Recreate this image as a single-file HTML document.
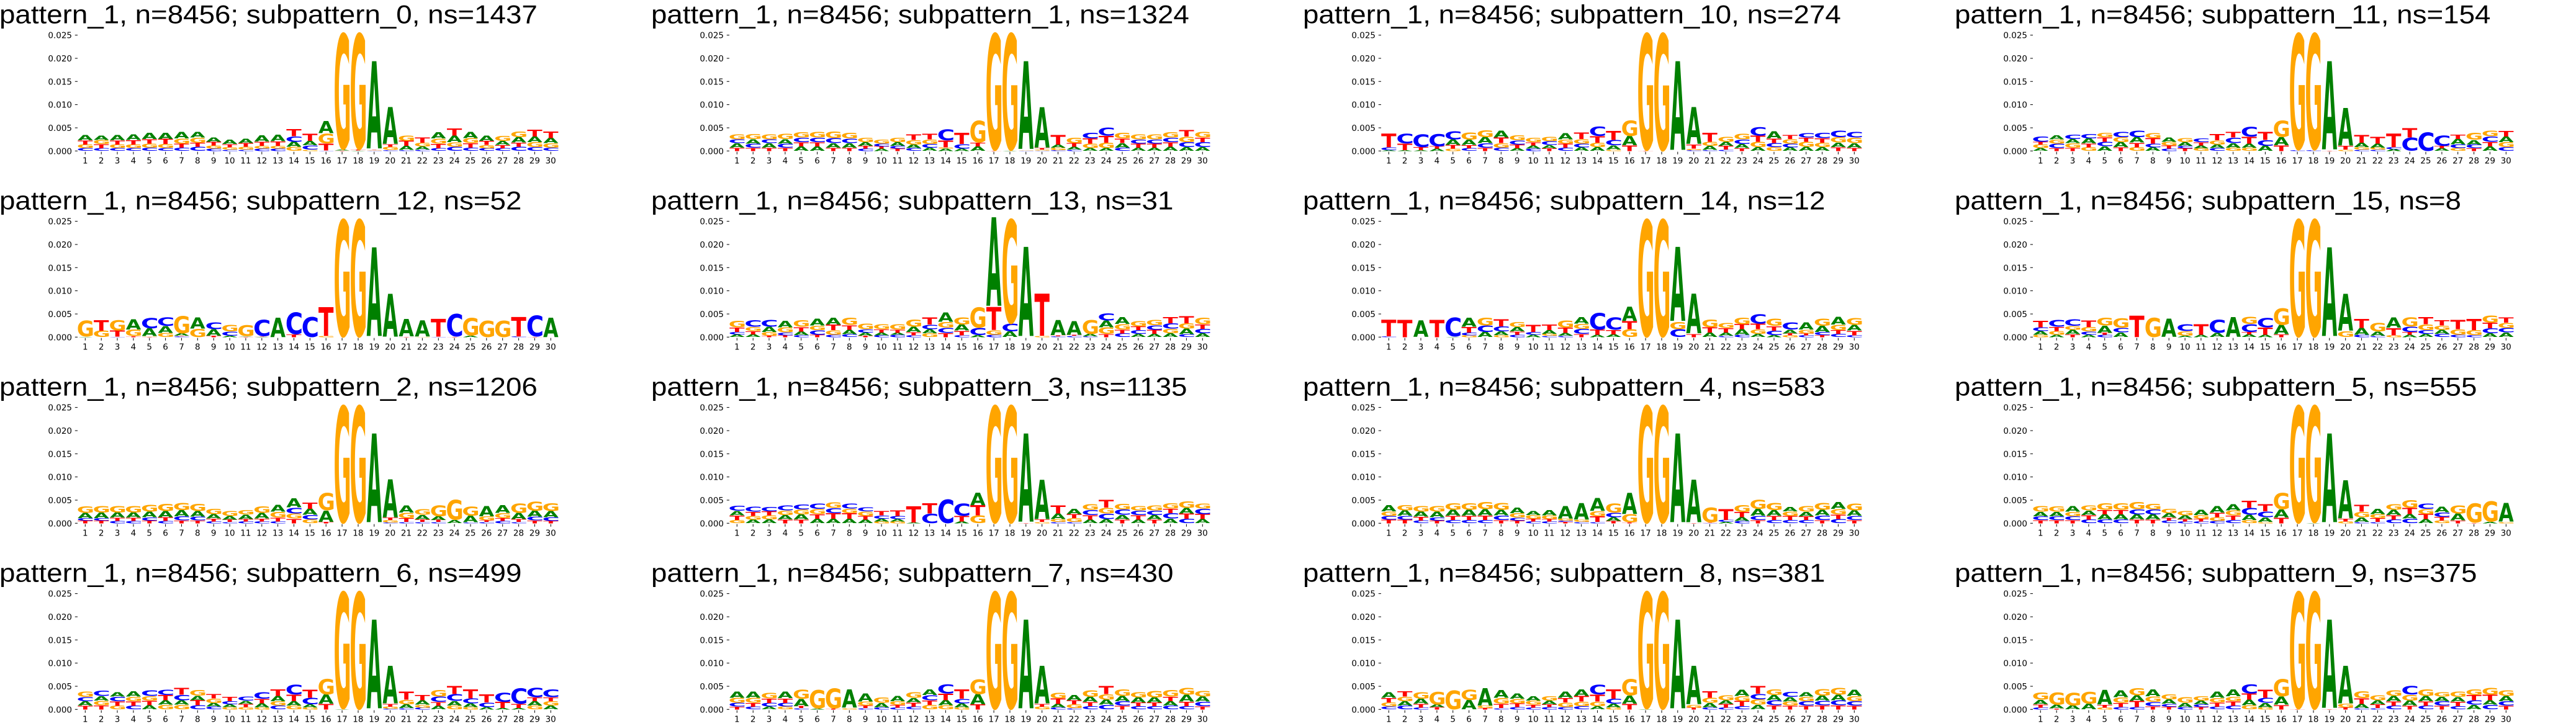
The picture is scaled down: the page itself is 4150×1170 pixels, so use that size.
<!DOCTYPE html>
<html><head><meta charset="utf-8">
<style>
html,body{margin:0;padding:0;background:#fff;overflow:hidden;}
svg{display:block;}
.t{font-family:"Liberation Sans",sans-serif;font-size:42px;fill:#000;}
.k{font-family:"DejaVu Sans",sans-serif;font-size:13.5px;fill:#000;}
</style></head><body>
<svg id="s" width="4150" height="1170" viewBox="0 0 4150 1170" xmlns="http://www.w3.org/2000/svg">
<rect width="4150" height="1170" fill="#fff"/>

<g transform="translate(0,0)">
<text class="t" transform="translate(-1,37.3) scale(1.089,1)">pattern_1, n=8456; subpattern_0, ns=1437</text>
<text class="k" text-anchor="end"><tspan x="116" y="248.3">0.000</tspan><tspan x="116" y="211">0.005</tspan><tspan x="116" y="173.6">0.010</tspan><tspan x="116" y="136.3">0.015</tspan><tspan x="116" y="99">0.020</tspan><tspan x="116" y="61.6">0.025</tspan></text>
<text class="k" text-anchor="middle" y="263.3"><tspan x="137.3">1</tspan><tspan x="163.2">2</tspan><tspan x="189">3</tspan><tspan x="214.9">4</tspan><tspan x="240.7">5</tspan><tspan x="266.6">6</tspan><tspan x="292.5">7</tspan><tspan x="318.3">8</tspan><tspan x="344.2">9</tspan><tspan x="370">10</tspan><tspan x="395.9">11</tspan><tspan x="421.8">12</tspan><tspan x="447.6">13</tspan><tspan x="473.5">14</tspan><tspan x="499.3">15</tspan><tspan x="525.2">16</tspan><tspan x="551.1">17</tspan><tspan x="576.9">18</tspan><tspan x="602.8">19</tspan><tspan x="628.6">20</tspan><tspan x="654.5">21</tspan><tspan x="680.4">22</tspan><tspan x="706.2">23</tspan><tspan x="732.1">24</tspan><tspan x="757.9">25</tspan><tspan x="783.8">26</tspan><tspan x="809.7">27</tspan><tspan x="835.5">28</tspan><tspan x="861.4">29</tspan><tspan x="887.2">30</tspan></text>
</g>

<g transform="translate(1050,0)">
<text class="t" transform="translate(-1,37.3) scale(1.089,1)">pattern_1, n=8456; subpattern_1, ns=1324</text>
<text class="k" text-anchor="end"><tspan x="116" y="248.3">0.000</tspan><tspan x="116" y="211">0.005</tspan><tspan x="116" y="173.6">0.010</tspan><tspan x="116" y="136.3">0.015</tspan><tspan x="116" y="99">0.020</tspan><tspan x="116" y="61.6">0.025</tspan></text>
<text class="k" text-anchor="middle" y="263.3"><tspan x="137.3">1</tspan><tspan x="163.2">2</tspan><tspan x="189">3</tspan><tspan x="214.9">4</tspan><tspan x="240.7">5</tspan><tspan x="266.6">6</tspan><tspan x="292.5">7</tspan><tspan x="318.3">8</tspan><tspan x="344.2">9</tspan><tspan x="370">10</tspan><tspan x="395.9">11</tspan><tspan x="421.8">12</tspan><tspan x="447.6">13</tspan><tspan x="473.5">14</tspan><tspan x="499.3">15</tspan><tspan x="525.2">16</tspan><tspan x="551.1">17</tspan><tspan x="576.9">18</tspan><tspan x="602.8">19</tspan><tspan x="628.6">20</tspan><tspan x="654.5">21</tspan><tspan x="680.4">22</tspan><tspan x="706.2">23</tspan><tspan x="732.1">24</tspan><tspan x="757.9">25</tspan><tspan x="783.8">26</tspan><tspan x="809.7">27</tspan><tspan x="835.5">28</tspan><tspan x="861.4">29</tspan><tspan x="887.2">30</tspan></text>
</g>

<g transform="translate(2100,0)">
<text class="t" transform="translate(-1,37.3) scale(1.089,1)">pattern_1, n=8456; subpattern_10, ns=274</text>
<text class="k" text-anchor="end"><tspan x="116" y="248.3">0.000</tspan><tspan x="116" y="211">0.005</tspan><tspan x="116" y="173.6">0.010</tspan><tspan x="116" y="136.3">0.015</tspan><tspan x="116" y="99">0.020</tspan><tspan x="116" y="61.6">0.025</tspan></text>
<text class="k" text-anchor="middle" y="263.3"><tspan x="137.3">1</tspan><tspan x="163.2">2</tspan><tspan x="189">3</tspan><tspan x="214.9">4</tspan><tspan x="240.7">5</tspan><tspan x="266.6">6</tspan><tspan x="292.5">7</tspan><tspan x="318.3">8</tspan><tspan x="344.2">9</tspan><tspan x="370">10</tspan><tspan x="395.9">11</tspan><tspan x="421.8">12</tspan><tspan x="447.6">13</tspan><tspan x="473.5">14</tspan><tspan x="499.3">15</tspan><tspan x="525.2">16</tspan><tspan x="551.1">17</tspan><tspan x="576.9">18</tspan><tspan x="602.8">19</tspan><tspan x="628.6">20</tspan><tspan x="654.5">21</tspan><tspan x="680.4">22</tspan><tspan x="706.2">23</tspan><tspan x="732.1">24</tspan><tspan x="757.9">25</tspan><tspan x="783.8">26</tspan><tspan x="809.7">27</tspan><tspan x="835.5">28</tspan><tspan x="861.4">29</tspan><tspan x="887.2">30</tspan></text>
</g>

<g transform="translate(3150,0)">
<text class="t" transform="translate(-1,37.3) scale(1.089,1)">pattern_1, n=8456; subpattern_11, ns=154</text>
<text class="k" text-anchor="end"><tspan x="116" y="248.3">0.000</tspan><tspan x="116" y="211">0.005</tspan><tspan x="116" y="173.6">0.010</tspan><tspan x="116" y="136.3">0.015</tspan><tspan x="116" y="99">0.020</tspan><tspan x="116" y="61.6">0.025</tspan></text>
<text class="k" text-anchor="middle" y="263.3"><tspan x="137.3">1</tspan><tspan x="163.2">2</tspan><tspan x="189">3</tspan><tspan x="214.9">4</tspan><tspan x="240.7">5</tspan><tspan x="266.6">6</tspan><tspan x="292.5">7</tspan><tspan x="318.3">8</tspan><tspan x="344.2">9</tspan><tspan x="370">10</tspan><tspan x="395.9">11</tspan><tspan x="421.8">12</tspan><tspan x="447.6">13</tspan><tspan x="473.5">14</tspan><tspan x="499.3">15</tspan><tspan x="525.2">16</tspan><tspan x="551.1">17</tspan><tspan x="576.9">18</tspan><tspan x="602.8">19</tspan><tspan x="628.6">20</tspan><tspan x="654.5">21</tspan><tspan x="680.4">22</tspan><tspan x="706.2">23</tspan><tspan x="732.1">24</tspan><tspan x="757.9">25</tspan><tspan x="783.8">26</tspan><tspan x="809.7">27</tspan><tspan x="835.5">28</tspan><tspan x="861.4">29</tspan><tspan x="887.2">30</tspan></text>
</g>

<g transform="translate(0,300)">
<text class="t" transform="translate(-1,37.3) scale(1.089,1)">pattern_1, n=8456; subpattern_12, ns=52</text>
<text class="k" text-anchor="end"><tspan x="116" y="248.3">0.000</tspan><tspan x="116" y="211">0.005</tspan><tspan x="116" y="173.6">0.010</tspan><tspan x="116" y="136.3">0.015</tspan><tspan x="116" y="99">0.020</tspan><tspan x="116" y="61.6">0.025</tspan></text>
<text class="k" text-anchor="middle" y="263.3"><tspan x="137.3">1</tspan><tspan x="163.2">2</tspan><tspan x="189">3</tspan><tspan x="214.9">4</tspan><tspan x="240.7">5</tspan><tspan x="266.6">6</tspan><tspan x="292.5">7</tspan><tspan x="318.3">8</tspan><tspan x="344.2">9</tspan><tspan x="370">10</tspan><tspan x="395.9">11</tspan><tspan x="421.8">12</tspan><tspan x="447.6">13</tspan><tspan x="473.5">14</tspan><tspan x="499.3">15</tspan><tspan x="525.2">16</tspan><tspan x="551.1">17</tspan><tspan x="576.9">18</tspan><tspan x="602.8">19</tspan><tspan x="628.6">20</tspan><tspan x="654.5">21</tspan><tspan x="680.4">22</tspan><tspan x="706.2">23</tspan><tspan x="732.1">24</tspan><tspan x="757.9">25</tspan><tspan x="783.8">26</tspan><tspan x="809.7">27</tspan><tspan x="835.5">28</tspan><tspan x="861.4">29</tspan><tspan x="887.2">30</tspan></text>
</g>

<g transform="translate(1050,300)">
<text class="t" transform="translate(-1,37.3) scale(1.089,1)">pattern_1, n=8456; subpattern_13, ns=31</text>
<text class="k" text-anchor="end"><tspan x="116" y="248.3">0.000</tspan><tspan x="116" y="211">0.005</tspan><tspan x="116" y="173.6">0.010</tspan><tspan x="116" y="136.3">0.015</tspan><tspan x="116" y="99">0.020</tspan><tspan x="116" y="61.6">0.025</tspan></text>
<text class="k" text-anchor="middle" y="263.3"><tspan x="137.3">1</tspan><tspan x="163.2">2</tspan><tspan x="189">3</tspan><tspan x="214.9">4</tspan><tspan x="240.7">5</tspan><tspan x="266.6">6</tspan><tspan x="292.5">7</tspan><tspan x="318.3">8</tspan><tspan x="344.2">9</tspan><tspan x="370">10</tspan><tspan x="395.9">11</tspan><tspan x="421.8">12</tspan><tspan x="447.6">13</tspan><tspan x="473.5">14</tspan><tspan x="499.3">15</tspan><tspan x="525.2">16</tspan><tspan x="551.1">17</tspan><tspan x="576.9">18</tspan><tspan x="602.8">19</tspan><tspan x="628.6">20</tspan><tspan x="654.5">21</tspan><tspan x="680.4">22</tspan><tspan x="706.2">23</tspan><tspan x="732.1">24</tspan><tspan x="757.9">25</tspan><tspan x="783.8">26</tspan><tspan x="809.7">27</tspan><tspan x="835.5">28</tspan><tspan x="861.4">29</tspan><tspan x="887.2">30</tspan></text>
</g>

<g transform="translate(2100,300)">
<text class="t" transform="translate(-1,37.3) scale(1.089,1)">pattern_1, n=8456; subpattern_14, ns=12</text>
<text class="k" text-anchor="end"><tspan x="116" y="248.3">0.000</tspan><tspan x="116" y="211">0.005</tspan><tspan x="116" y="173.6">0.010</tspan><tspan x="116" y="136.3">0.015</tspan><tspan x="116" y="99">0.020</tspan><tspan x="116" y="61.6">0.025</tspan></text>
<text class="k" text-anchor="middle" y="263.3"><tspan x="137.3">1</tspan><tspan x="163.2">2</tspan><tspan x="189">3</tspan><tspan x="214.9">4</tspan><tspan x="240.7">5</tspan><tspan x="266.6">6</tspan><tspan x="292.5">7</tspan><tspan x="318.3">8</tspan><tspan x="344.2">9</tspan><tspan x="370">10</tspan><tspan x="395.9">11</tspan><tspan x="421.8">12</tspan><tspan x="447.6">13</tspan><tspan x="473.5">14</tspan><tspan x="499.3">15</tspan><tspan x="525.2">16</tspan><tspan x="551.1">17</tspan><tspan x="576.9">18</tspan><tspan x="602.8">19</tspan><tspan x="628.6">20</tspan><tspan x="654.5">21</tspan><tspan x="680.4">22</tspan><tspan x="706.2">23</tspan><tspan x="732.1">24</tspan><tspan x="757.9">25</tspan><tspan x="783.8">26</tspan><tspan x="809.7">27</tspan><tspan x="835.5">28</tspan><tspan x="861.4">29</tspan><tspan x="887.2">30</tspan></text>
</g>

<g transform="translate(3150,300)">
<text class="t" transform="translate(-1,37.3) scale(1.089,1)">pattern_1, n=8456; subpattern_15, ns=8</text>
<text class="k" text-anchor="end"><tspan x="116" y="248.3">0.000</tspan><tspan x="116" y="211">0.005</tspan><tspan x="116" y="173.6">0.010</tspan><tspan x="116" y="136.3">0.015</tspan><tspan x="116" y="99">0.020</tspan><tspan x="116" y="61.6">0.025</tspan></text>
<text class="k" text-anchor="middle" y="263.3"><tspan x="137.3">1</tspan><tspan x="163.2">2</tspan><tspan x="189">3</tspan><tspan x="214.9">4</tspan><tspan x="240.7">5</tspan><tspan x="266.6">6</tspan><tspan x="292.5">7</tspan><tspan x="318.3">8</tspan><tspan x="344.2">9</tspan><tspan x="370">10</tspan><tspan x="395.9">11</tspan><tspan x="421.8">12</tspan><tspan x="447.6">13</tspan><tspan x="473.5">14</tspan><tspan x="499.3">15</tspan><tspan x="525.2">16</tspan><tspan x="551.1">17</tspan><tspan x="576.9">18</tspan><tspan x="602.8">19</tspan><tspan x="628.6">20</tspan><tspan x="654.5">21</tspan><tspan x="680.4">22</tspan><tspan x="706.2">23</tspan><tspan x="732.1">24</tspan><tspan x="757.9">25</tspan><tspan x="783.8">26</tspan><tspan x="809.7">27</tspan><tspan x="835.5">28</tspan><tspan x="861.4">29</tspan><tspan x="887.2">30</tspan></text>
</g>

<g transform="translate(0,600)">
<text class="t" transform="translate(-1,37.3) scale(1.089,1)">pattern_1, n=8456; subpattern_2, ns=1206</text>
<text class="k" text-anchor="end"><tspan x="116" y="248.3">0.000</tspan><tspan x="116" y="211">0.005</tspan><tspan x="116" y="173.6">0.010</tspan><tspan x="116" y="136.3">0.015</tspan><tspan x="116" y="99">0.020</tspan><tspan x="116" y="61.6">0.025</tspan></text>
<text class="k" text-anchor="middle" y="263.3"><tspan x="137.3">1</tspan><tspan x="163.2">2</tspan><tspan x="189">3</tspan><tspan x="214.9">4</tspan><tspan x="240.7">5</tspan><tspan x="266.6">6</tspan><tspan x="292.5">7</tspan><tspan x="318.3">8</tspan><tspan x="344.2">9</tspan><tspan x="370">10</tspan><tspan x="395.9">11</tspan><tspan x="421.8">12</tspan><tspan x="447.6">13</tspan><tspan x="473.5">14</tspan><tspan x="499.3">15</tspan><tspan x="525.2">16</tspan><tspan x="551.1">17</tspan><tspan x="576.9">18</tspan><tspan x="602.8">19</tspan><tspan x="628.6">20</tspan><tspan x="654.5">21</tspan><tspan x="680.4">22</tspan><tspan x="706.2">23</tspan><tspan x="732.1">24</tspan><tspan x="757.9">25</tspan><tspan x="783.8">26</tspan><tspan x="809.7">27</tspan><tspan x="835.5">28</tspan><tspan x="861.4">29</tspan><tspan x="887.2">30</tspan></text>
</g>

<g transform="translate(1050,600)">
<text class="t" transform="translate(-1,37.3) scale(1.089,1)">pattern_1, n=8456; subpattern_3, ns=1135</text>
<text class="k" text-anchor="end"><tspan x="116" y="248.3">0.000</tspan><tspan x="116" y="211">0.005</tspan><tspan x="116" y="173.6">0.010</tspan><tspan x="116" y="136.3">0.015</tspan><tspan x="116" y="99">0.020</tspan><tspan x="116" y="61.6">0.025</tspan></text>
<text class="k" text-anchor="middle" y="263.3"><tspan x="137.3">1</tspan><tspan x="163.2">2</tspan><tspan x="189">3</tspan><tspan x="214.9">4</tspan><tspan x="240.7">5</tspan><tspan x="266.6">6</tspan><tspan x="292.5">7</tspan><tspan x="318.3">8</tspan><tspan x="344.2">9</tspan><tspan x="370">10</tspan><tspan x="395.9">11</tspan><tspan x="421.8">12</tspan><tspan x="447.6">13</tspan><tspan x="473.5">14</tspan><tspan x="499.3">15</tspan><tspan x="525.2">16</tspan><tspan x="551.1">17</tspan><tspan x="576.9">18</tspan><tspan x="602.8">19</tspan><tspan x="628.6">20</tspan><tspan x="654.5">21</tspan><tspan x="680.4">22</tspan><tspan x="706.2">23</tspan><tspan x="732.1">24</tspan><tspan x="757.9">25</tspan><tspan x="783.8">26</tspan><tspan x="809.7">27</tspan><tspan x="835.5">28</tspan><tspan x="861.4">29</tspan><tspan x="887.2">30</tspan></text>
</g>

<g transform="translate(2100,600)">
<text class="t" transform="translate(-1,37.3) scale(1.089,1)">pattern_1, n=8456; subpattern_4, ns=583</text>
<text class="k" text-anchor="end"><tspan x="116" y="248.3">0.000</tspan><tspan x="116" y="211">0.005</tspan><tspan x="116" y="173.6">0.010</tspan><tspan x="116" y="136.3">0.015</tspan><tspan x="116" y="99">0.020</tspan><tspan x="116" y="61.6">0.025</tspan></text>
<text class="k" text-anchor="middle" y="263.3"><tspan x="137.3">1</tspan><tspan x="163.2">2</tspan><tspan x="189">3</tspan><tspan x="214.9">4</tspan><tspan x="240.7">5</tspan><tspan x="266.6">6</tspan><tspan x="292.5">7</tspan><tspan x="318.3">8</tspan><tspan x="344.2">9</tspan><tspan x="370">10</tspan><tspan x="395.9">11</tspan><tspan x="421.8">12</tspan><tspan x="447.6">13</tspan><tspan x="473.5">14</tspan><tspan x="499.3">15</tspan><tspan x="525.2">16</tspan><tspan x="551.1">17</tspan><tspan x="576.9">18</tspan><tspan x="602.8">19</tspan><tspan x="628.6">20</tspan><tspan x="654.5">21</tspan><tspan x="680.4">22</tspan><tspan x="706.2">23</tspan><tspan x="732.1">24</tspan><tspan x="757.9">25</tspan><tspan x="783.8">26</tspan><tspan x="809.7">27</tspan><tspan x="835.5">28</tspan><tspan x="861.4">29</tspan><tspan x="887.2">30</tspan></text>
</g>

<g transform="translate(3150,600)">
<text class="t" transform="translate(-1,37.3) scale(1.089,1)">pattern_1, n=8456; subpattern_5, ns=555</text>
<text class="k" text-anchor="end"><tspan x="116" y="248.3">0.000</tspan><tspan x="116" y="211">0.005</tspan><tspan x="116" y="173.6">0.010</tspan><tspan x="116" y="136.3">0.015</tspan><tspan x="116" y="99">0.020</tspan><tspan x="116" y="61.6">0.025</tspan></text>
<text class="k" text-anchor="middle" y="263.3"><tspan x="137.3">1</tspan><tspan x="163.2">2</tspan><tspan x="189">3</tspan><tspan x="214.9">4</tspan><tspan x="240.7">5</tspan><tspan x="266.6">6</tspan><tspan x="292.5">7</tspan><tspan x="318.3">8</tspan><tspan x="344.2">9</tspan><tspan x="370">10</tspan><tspan x="395.9">11</tspan><tspan x="421.8">12</tspan><tspan x="447.6">13</tspan><tspan x="473.5">14</tspan><tspan x="499.3">15</tspan><tspan x="525.2">16</tspan><tspan x="551.1">17</tspan><tspan x="576.9">18</tspan><tspan x="602.8">19</tspan><tspan x="628.6">20</tspan><tspan x="654.5">21</tspan><tspan x="680.4">22</tspan><tspan x="706.2">23</tspan><tspan x="732.1">24</tspan><tspan x="757.9">25</tspan><tspan x="783.8">26</tspan><tspan x="809.7">27</tspan><tspan x="835.5">28</tspan><tspan x="861.4">29</tspan><tspan x="887.2">30</tspan></text>
</g>

<g transform="translate(0,900)">
<text class="t" transform="translate(-1,37.3) scale(1.089,1)">pattern_1, n=8456; subpattern_6, ns=499</text>
<text class="k" text-anchor="end"><tspan x="116" y="248.3">0.000</tspan><tspan x="116" y="211">0.005</tspan><tspan x="116" y="173.6">0.010</tspan><tspan x="116" y="136.3">0.015</tspan><tspan x="116" y="99">0.020</tspan><tspan x="116" y="61.6">0.025</tspan></text>
<text class="k" text-anchor="middle" y="263.3"><tspan x="137.3">1</tspan><tspan x="163.2">2</tspan><tspan x="189">3</tspan><tspan x="214.9">4</tspan><tspan x="240.7">5</tspan><tspan x="266.6">6</tspan><tspan x="292.5">7</tspan><tspan x="318.3">8</tspan><tspan x="344.2">9</tspan><tspan x="370">10</tspan><tspan x="395.9">11</tspan><tspan x="421.8">12</tspan><tspan x="447.6">13</tspan><tspan x="473.5">14</tspan><tspan x="499.3">15</tspan><tspan x="525.2">16</tspan><tspan x="551.1">17</tspan><tspan x="576.9">18</tspan><tspan x="602.8">19</tspan><tspan x="628.6">20</tspan><tspan x="654.5">21</tspan><tspan x="680.4">22</tspan><tspan x="706.2">23</tspan><tspan x="732.1">24</tspan><tspan x="757.9">25</tspan><tspan x="783.8">26</tspan><tspan x="809.7">27</tspan><tspan x="835.5">28</tspan><tspan x="861.4">29</tspan><tspan x="887.2">30</tspan></text>
</g>

<g transform="translate(1050,900)">
<text class="t" transform="translate(-1,37.3) scale(1.089,1)">pattern_1, n=8456; subpattern_7, ns=430</text>
<text class="k" text-anchor="end"><tspan x="116" y="248.3">0.000</tspan><tspan x="116" y="211">0.005</tspan><tspan x="116" y="173.6">0.010</tspan><tspan x="116" y="136.3">0.015</tspan><tspan x="116" y="99">0.020</tspan><tspan x="116" y="61.6">0.025</tspan></text>
<text class="k" text-anchor="middle" y="263.3"><tspan x="137.3">1</tspan><tspan x="163.2">2</tspan><tspan x="189">3</tspan><tspan x="214.9">4</tspan><tspan x="240.7">5</tspan><tspan x="266.6">6</tspan><tspan x="292.5">7</tspan><tspan x="318.3">8</tspan><tspan x="344.2">9</tspan><tspan x="370">10</tspan><tspan x="395.9">11</tspan><tspan x="421.8">12</tspan><tspan x="447.6">13</tspan><tspan x="473.5">14</tspan><tspan x="499.3">15</tspan><tspan x="525.2">16</tspan><tspan x="551.1">17</tspan><tspan x="576.9">18</tspan><tspan x="602.8">19</tspan><tspan x="628.6">20</tspan><tspan x="654.5">21</tspan><tspan x="680.4">22</tspan><tspan x="706.2">23</tspan><tspan x="732.1">24</tspan><tspan x="757.9">25</tspan><tspan x="783.8">26</tspan><tspan x="809.7">27</tspan><tspan x="835.5">28</tspan><tspan x="861.4">29</tspan><tspan x="887.2">30</tspan></text>
</g>

<g transform="translate(2100,900)">
<text class="t" transform="translate(-1,37.3) scale(1.089,1)">pattern_1, n=8456; subpattern_8, ns=381</text>
<text class="k" text-anchor="end"><tspan x="116" y="248.3">0.000</tspan><tspan x="116" y="211">0.005</tspan><tspan x="116" y="173.6">0.010</tspan><tspan x="116" y="136.3">0.015</tspan><tspan x="116" y="99">0.020</tspan><tspan x="116" y="61.6">0.025</tspan></text>
<text class="k" text-anchor="middle" y="263.3"><tspan x="137.3">1</tspan><tspan x="163.2">2</tspan><tspan x="189">3</tspan><tspan x="214.9">4</tspan><tspan x="240.7">5</tspan><tspan x="266.6">6</tspan><tspan x="292.5">7</tspan><tspan x="318.3">8</tspan><tspan x="344.2">9</tspan><tspan x="370">10</tspan><tspan x="395.9">11</tspan><tspan x="421.8">12</tspan><tspan x="447.6">13</tspan><tspan x="473.5">14</tspan><tspan x="499.3">15</tspan><tspan x="525.2">16</tspan><tspan x="551.1">17</tspan><tspan x="576.9">18</tspan><tspan x="602.8">19</tspan><tspan x="628.6">20</tspan><tspan x="654.5">21</tspan><tspan x="680.4">22</tspan><tspan x="706.2">23</tspan><tspan x="732.1">24</tspan><tspan x="757.9">25</tspan><tspan x="783.8">26</tspan><tspan x="809.7">27</tspan><tspan x="835.5">28</tspan><tspan x="861.4">29</tspan><tspan x="887.2">30</tspan></text>
</g>

<g transform="translate(3150,900)">
<text class="t" transform="translate(-1,37.3) scale(1.089,1)">pattern_1, n=8456; subpattern_9, ns=375</text>
<text class="k" text-anchor="end"><tspan x="116" y="248.3">0.000</tspan><tspan x="116" y="211">0.005</tspan><tspan x="116" y="173.6">0.010</tspan><tspan x="116" y="136.3">0.015</tspan><tspan x="116" y="99">0.020</tspan><tspan x="116" y="61.6">0.025</tspan></text>
<text class="k" text-anchor="middle" y="263.3"><tspan x="137.3">1</tspan><tspan x="163.2">2</tspan><tspan x="189">3</tspan><tspan x="214.9">4</tspan><tspan x="240.7">5</tspan><tspan x="266.6">6</tspan><tspan x="292.5">7</tspan><tspan x="318.3">8</tspan><tspan x="344.2">9</tspan><tspan x="370">10</tspan><tspan x="395.9">11</tspan><tspan x="421.8">12</tspan><tspan x="447.6">13</tspan><tspan x="473.5">14</tspan><tspan x="499.3">15</tspan><tspan x="525.2">16</tspan><tspan x="551.1">17</tspan><tspan x="576.9">18</tspan><tspan x="602.8">19</tspan><tspan x="628.6">20</tspan><tspan x="654.5">21</tspan><tspan x="680.4">22</tspan><tspan x="706.2">23</tspan><tspan x="732.1">24</tspan><tspan x="757.9">25</tspan><tspan x="783.8">26</tspan><tspan x="809.7">27</tspan><tspan x="835.5">28</tspan><tspan x="861.4">29</tspan><tspan x="887.2">30</tspan></text>
</g>

<g id="L" font-family="DejaVu Sans, sans-serif" font-weight="bold" font-size="100"></g>
</svg>
<script>
(function(){
var NS='http://www.w3.org/2000/svg';
var P=[
"C.6G.8T.9A1.1 C.6T.9G.9A1 C.6G.8T.9A1.1 C.6G.8T1A1.2 C.7G.9T1A1.3 C.6G.9T1.1A1.3 C.7T.9G1.1A1.4 C.9T.9G1.1A1.2 C.5G.7T.8A1 C.3G.5T.7A1 C.3G.6T.8A1 C.5G.6T.9A1.3 C.5G.6T1A1.4 G.9A1.1C1.2T1.6 G.3C.9A1T1.6 C.1T1.5G2.2A2.6 T.1A.2G25.6 A.1T.2G25.6 C.1G.1T.1A19.1 C.2G.7T.5A8 C.2A.9T1.1G1.2 C.3A.7G.8T1.1 C.6T1G1.1A1.3 C.9G1A1.4T1.6 C.7T1G1.1A1.3 C.6G.7T.9A1.1 C.6T.7A.9G1.1 C.9T.9A1.2G1.3 C.8G1.1A1.2T1.5 C.7G1A1.1T1.4",
"T.7A1C.8G1.1 T.7C.9A1G1.1 T.7A1C.8G1.1 T.7C.9A1G1.2 A1T.9C1G1.2 A1T.9C1G1.3 T.7A1C1.1G1.4 T.7A1C1G1.3 C.5T.6A.8G1 A.5T.5C.6G.9 T.5C.6A.8G1 C.6A.8G1T1.2 A.7C.8G1T1.2 A.5G.3T1.5C2.4 A.5C1T2.5 A1T.8G4.8 T.1G25.8 A.1G25.8 C.1G.1A19.2 C.1G.2T.3A8.8 C.2G.5A.7T2.1 C.3A.6T.8G1.2 A.6G1T1.1C1.3 A.6G1.2T1.5C1.8 C.7A1T1G1.3 A.7T.9C.9G1.1 A.7T.9C.9G1.1 A.9T1C1G1.2 A.8C1.1G1.2T1.4 A.8C1.1T1G1.3",
"A.2C.6T3 A.2T1.4C2.2 A.2T.7C2.8 A.5T.5C2.7 G.5T.8A1.2C1.8 C.6T.7A1.1G1.6 T.7C1A1.3G1.5 C.7G1T1.2A1.5 A.6T.8C.9G1.1 C.5A.7T.7G1 T.6A.7C.8G1 C.7T.9G.9A1.3 A.8C.8G1T1.4 A.8G1T1.4C2.1 G.3A.9C1.2T1.9 T1.2A2G3.4 T.1G25.8 G25.9 A19.4 C.2G.3T.9A8 C.2A.9G.9T1.9 C.3T.8A.9G1.1 T.6A.9C1G1.3 A.8G1.2T1.3C1.9 G.8C.9T1A1.6 A.8C.8G1T.9 A.9G1.1T.9C1 A.8G1T1C1.2 T.8A1G1.2C1.4 T.7A1G1.2C1.3",
"A.6G.8T.6C1.2 T.6C1G.9A.9 T.7G1A.9C1 G.8T.8A1.1C1 A1C1T1G1 T.8A1.1G1.1C1.2 G.8T1A1.2C1.4 A.8C.8T1.2G1.1 C.5T.7G.8A1 T.6C.5A.8G.9 G.6A.6T.7C.8 C.6A.8G.9T1.3 G.7A1C1.2T1.2 G.7A.9T1.5C2.2 A1.1C1.3T1.8 T1.2A1.8G3.6 C.2G25.7 C.2G25.7 T.1A19.3 G.3T.8A8.2 C.3G.5A1T1.7 C.3G.4A.9T1.5 A.4C.4T3 C2.9T2 C4.1 A.6T.5C2.3 G.6C.8A1.2T1 T.6C.8A1G1.5 A1T1C1.2G1.3 C.8G1.1A1.2T1.2",
"A.1G3.5 G1.4T2.3 C.1T1.3G2.3 T.2G1.4A2.2 T.1G.1A1.7C2.3 G.9A1.5C1.9 C.2T.1A.5G3.8 G1.8A2.5 T.3A1.4C1.5 A.3C.9G1.4 T.1A.1G2.4 A.1T.1C3.6 A4.2 T.6C4.8 C4.4 G.3T6.3 G25.9 G25.9 A19.4 A9.4 T.1A3.8 G.1A3.5 C.1T3.9 T.1C5 A.3G3.9 G3.6 G3.6 C.2T4.2 T.1C4.6 A4.2",
"A.6C.5T1G1.4 A.6T.7G.9C1.4 T.3G.8A1.1C1.5 T.4C.6G1.1A1.4 C.4A.8T1G1.4 T.5C1G1A1.5 C.5G1T1.2A1.5 C.6A1T1G1.6 T.3A.7C.7G1.3 C.4A.6T.7G1.1 C.5A.4T.7G1.2 C.4T.7A1.1G1.6 G.8A.9C1T1.6 T.9C1.1G1.3A2 C.4T1A1.3G1.6 A.4C1.6G4.5 C.5G1T5A19.4 A1.2C1.7G23 A19.5 G.3T9.2 C.2T.2A3.3 C.3T.2A3 C.2A.5G3.1 T.7G1.4A1.5C1.6 C.8T.8G1.2A1.5 A.7C.8T.8G1.2 A.7T.9C1G1.2 A.8G1C1.2T1.3 C.6A1.2G1.2T1.6 A.8C1T1G1.4",
"C.2T3.6 T3.8 A3.6 T3.8 A.1C4.2 G.4C.6T1.2A1.9 A1.1C1.4G1.7 G.4A.8C1.1T1.6 C.5T.7A1G1.1 A.5C.6T1.6 C.3G.4A.8T1.2 C.3A.6T1.1G1.6 T.7C1.1G1.1A1.4 A.5T1.1C3.7 A.6T1C2.7 G1.7T1.8A3.1 G25.9 G25.9 C1.7G1.6A16.2 T.7A8.7 A1T1.1G1.7 C.3A.7T1G1.1 C.5A1.2T1.1G1.4 A.7G1T1.2C2.1 A.4C1T1G1.6 G.4T.4A.8C1.6 C.4T.4G.8A1.6 T.4C.7A1.3G1.6 C.7T.8G1.2A1.7 C.4T1A1.2G1.5",
"G.5A.8C.8T1.4 A.5G.8T.9C1.5 T.6A1G.8C1.4 A.5C.7G1T1.4 C.5T.4A1.6G1.7 A1C1G2.1 T4.7 G4.3 A4 A.3G1C1.5 A.5T2.3 A.9C2.9 A4.3 A.6T.5C1.7G1.6 A.5T1.6C2.1 T.6A2G3.7 G25.9 G25.9 A19.4 G1.3A8 C.5A1.5T1.9 C.3A.9G1.9 G.4T1.6A2.2 A.5T.6C1.2G2 A.7C.8G1.3T1.6 C.7A.9G.9T1.1 C.5G1.2T2 C.4G1.1T2.5 A.8C1.1T1.2G1.6 A1C1G1.1T1.1",
"T.6C.5A1.1G1.4 T.6C.5A1.2G1.4 C.5T.7A1.1G1.4 C.5T.7A1.1G1.4 T.6C.7A1.2G1.5 C.5T.8A1.3G1.6 T.6C.9A1.3G1.6 T.6C.8A1.2G1.6 C.4T.6A1G1.2 C.3T.5A.8G1.1 C.4T.5A1G1 C.4T.6A1.2G1.4 C.4T.8G1.3A1.5 T1G1.1C1.3A1.9 G.8C1A1.3T1.3 T.3A2.5G3.8 G25.9 G25.9 A19.4 C.2G.5T.5A8.3 C.3T.8G1.2A1.6 C.3T.5A1G1.3 C.3T.4A.8G2.4 A.7G4.4 C.2A1.4G2 C.3T.3G.9A2.2 C.5T.6G1.1A1.7 C.3T.6A1.3G2.1 T.6C.8A1.3G2 T.5C.8A1.3G1.7",
"G.7T1A1C1.1 A.8G.8T.9C1.1 A.8G.9T.9C1 T.8A1G1C1.1 T.8A1.1G1.1C1.1 A1T1G1.1C1.2 A1T1.2C1.1G1.3 A1T1.2G1C1.1 A.8T.8G1C.9 G.4A.6C.7T1 G.4A.5C.7T1.2 A.2T3.5 C2.1T2.2 C5.3 A.4T1.2C2.7 G1.7T2.2A2.7 G25.9 G25.9 T.1A19.3 G.3T.5A8.6 C.3G.6A1.2T1.8 C.3G.8T.9A1.1 A.8T1C1.1G1.3 A.9C1.2G1.3T1.7 T.8A1C1.2G1.3 A.8T1C1G1 T.8A1C1G1.1 A1C1.2T1G1.2 C1T1.1A1.2G1.4 A.9T1.1C1.2G1.1",
"T.8C.8G1A1.3 T.8C.8A1.2G1.2 C.6T.8A1.1G1.3 T.6C.7A1.2G1.3 C.7T.9A1.3G1.4 C.7T.9A1.3G1.4 C.7T1A1.3G1.6 T.7C1A1.2G1.5 T.6C.6G1A1.2 C.4T.6G.8A.9 C.4T.5G.8A1.1 T.3C.3G.4A2.7 C.3G.4A3.6 C.3T1.2G1.1A2.8 T.5A.8C1G2 T.2G1.8A4.6 G25.9 G25.9 A19.4 T.1A9.3 C.1T.1G3.3 A.3C.4T2.4 C.5A.8T1.1G1.5 T.7C.9A1.5G2 C.7T.9A1.2G1.6 C.7T.9G1A1 C.7T.8A1G1.3 T.7C1A1.2G1.5 C.9T1G1.2A1.5 T.7C.9A1.2G1.5",
"T.7C.8A1G1.3 T.7C.8A1G1.2 T.7C.8G1A1.2 C.8T1A1G1.1 C.8A1.1T1G1.4 C.8A1.1T1G1.4 T.8A1.1C1.1G1.6 T.8A1.1C1.1G1.3 C.6T.6A1G1 C.4T.5A.8G1 C.4T.6G.8A1.1 C.5G.8T1A1.4 C.7T1G1.1A1.3 G.7A1.1C1.5T1.6 G.3A1C1.3T1.6 T1.2A1.8G3.6 G25.9 A.1G25.8 A19.4 G.4T.6A8.3 C.3A1G1.2T1.5 C.3T.8G.9A1.1 C.8T1A1.1G1.3 C1A1T1.3G1.7 A.9T1.1G1.1C1.2 G.6T.8C1A1.2 T.6A1.5G1.8 T.1G4.3 A.3G4.5 G.3A4.1",
"T.8A1C.9G1.2 T.9G1A1C1.2 G.8T1C1A1 C.8T1G1A1.1 A.9T1G1C1.3 G1A1T1.1C1.2 G1A1C1.2T1.5 C.9T1.1A1G1.3 C.6A.8G1T1 G.5A.6C.7T1 G.5T.7A.7C.9 G.4A.9T1C1.4 C.8G1A1.1T1.4 G.8A1T1.4C2.2 G.4A.7C1.4T1.8 T1.2A2G3.4 A.1G25.8 G25.9 A19.4 C.2G.4T.6A8.2 C.3A.8G1T1.8 C.4G.6A1T1.1 A.8T.8C1.2G1.4 G.8A1C1.5T1.8 G.5A.8C1.1T1.9 A.5C1T1.8 A.3T1.3C2 A.3T.9C3.4 G.8A1T.8C2.1 A.8G1T.8C1.7",
"T.6C.8G1.1A1.3 C.6T.8G1.1A1.3 A.6C.8T1G1.3 G.6C.8T1A1.4 C.3T.4A1.6G2 A.2G4.1 T.2G4.4 G.3A4 C.3T.5G.9A1.8 C.4A1G1.2 C.4T.6G.8A1.1 C.6T.9A1G1.3 G1T1C1.1A1.2 G.9A1.1T1.4C2 G.4A.9C1T2 T1.1A2.2G3.3 G25.9 G25.9 A19.4 G.6T.6A8.2 C.4A.8T1.2G1.3 C.3G.8T.9A1.1 C.7T.9A1.1G1.4 C1A1.1G1.2T1.8 T.8C1A1.1G1.4 C.7T.8A1.1G1.2 C.7T.8A1.1G1.4 C.8A1T1G1.4 C.7T1A1.5G1.5 T.7C1A1.1G1.3",
"C.6G.9T1A1.2 C.8A1G1T1.1 C.4T.8A1.1G1.4 T.5A.6G2.8 G4.2 A2G2.3 T.3G.5A3.8 C.3T.9G1.3A1.7 C.5T.8G1A1.1 C.4T.6G.9A1 C.5T.6A.8G1 C.5G1T1A1.3 C.7G1T1.2A1.4 A.7G1T1.5C2.2 G.4A.8C1.1T2 T1.2A1.8G3.6 A.1G25.8 G25.9 A19.4 T.4G.6A8.4 C.4A1G1.1T1.4 C.4T.8A.8G1.1 C.7T1.1G1.1A1.3 A1G1.2C1.2T1.7 T.9C1.1A1.1G1.3 T.8G.9A1C1.1 T.8C1G1A1 T.9C1A1.1G1.4 T.9C1.1A1.2G1.5 T.8C1G1.1A1.3",
"C.4T.7A1G1.6 T.2A.8G2.7 A.9G2.8 A1.2G2.6 G.4T.6A3.2 C.5T.9G1.2A1.5 C.5T1.3A1.2G1.6 T.7C.9G1.2A1.5 T.6C.6A1G1.1 C.5A.9G1.3 T.5C.6A.8G1 C.6T.9G1A1.3 C.8T1G1A1.5 G.9A1.2T1.3C2 G.4A1C1.1T1.8 T1A1.8G3.8 T.1G25.8 G25.9 T.1A19.3 T.4G.8A8.2 C.3A.9T1.2G1.5 C.3T.8A.9G1.1 C.8T1A1.1G1.3 T.8A1.1G1.3C1.9 C.8T1A1.1G1.4 T.8C1A1G1 C.7T1A1G1.2 A1C1T1.1G1.3 C1A1T1.2G1.5 T.8C1A1.1G1.3"
];
var COL={A:'#008000',C:'#0000ff',G:'#ffa500',T:'#ff0000'};
var FB={A:[1.5,76,-72.9,0],C:[5,67,-74.4,1.4],G:[5,75,-74.4,1.4],T:[0.5,68,-72.9,0]};
var M={};
try{
 var cx=document.createElement('canvas').getContext('2d');
 cx.font='bold 100px "DejaVu Sans"';
 ['A','C','G','T'].forEach(function(c){
  var m=cx.measureText(c);
  var l=-m.actualBoundingBoxLeft,r=m.actualBoundingBoxRight,t=-m.actualBoundingBoxAscent,b=m.actualBoundingBoxDescent;
  if(isFinite(l)&&isFinite(r)&&isFinite(t)&&isFinite(b)&&(r-l)>20&&(b-t)>40){M[c]=[l,r,t,b];}else{M[c]=FB[c];}
 });
}catch(e){M=FB;}
var g=document.getElementById('L'),tk='';
var S=7.4667,W=24.4;
for(var p=0;p<16;p++){
 var ox=1050*(p%4),oy=300*Math.floor(p/4);
 var cols=P[p].split(' ');
 for(var i=0;i<30;i++){
  var x=ox+137.3+25.862*i;
  tk+='M'+x.toFixed(1)+' '+(oy+244.6)+'v4.2';
  var re=/([ACGT])(\d*\.?\d+)/g,m,f=0;
  var s=cols[i]||'';
  while((m=re.exec(s))){
   var L=m[1],h=parseFloat(m[2]);
   var yb=oy+243.3-f*S,yt=yb-h*S;f+=h;
   if(h<0.04)continue;
   var k=M[L],x0=x-W/2,x1=x+W/2;
   var sx=(x1-x0)/(k[1]-k[0]),tx=x0-sx*k[0];
   var sy=(yb-yt)/(k[3]-k[2]),ty=yt-sy*k[2];
   var e=document.createElementNS(NS,'text');
   e.setAttribute('transform','matrix('+sx.toFixed(5)+' 0 0 '+sy.toFixed(5)+' '+tx.toFixed(2)+' '+ty.toFixed(2)+')');
   e.setAttribute('fill',COL[L]);
   e.textContent=L;
   g.appendChild(e);
  }
 }
 for(var j=0;j<6;j++){tk+='M'+(ox+120.8)+' '+(oy+243.3-37.333*j).toFixed(1)+'h4.2';}
}
var pa=document.createElementNS(NS,'path');
pa.setAttribute('d',tk);pa.setAttribute('stroke','#000');pa.setAttribute('stroke-width','1');pa.setAttribute('fill','none');
document.getElementById('s').appendChild(pa);
})();
</script>
</body></html>
